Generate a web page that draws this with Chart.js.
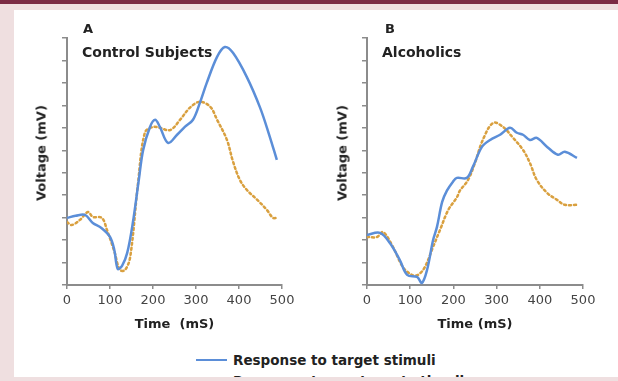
<!DOCTYPE html>
<html><head><meta charset="utf-8">
<script src="https://cdn.jsdelivr.net/npm/chart.js@4.4.1/dist/chart.umd.min.js"></script>
<style>
html,body{margin:0;padding:0;}
body{width:618px;height:381px;position:relative;overflow:hidden;background:#efdfe0;font-family:"DejaVu Sans",sans-serif;}
#band{position:absolute;left:0;top:0;width:618px;height:4px;background:#7b2b44;}
#panel{position:absolute;left:14px;top:10px;width:604px;height:367px;background:#fff;}
#bottom{position:absolute;left:0;top:377px;width:618px;height:4px;background:#efdfe0;z-index:5;}
.cv{position:absolute;top:0;}
.lbl{position:absolute;font-weight:bold;color:#222;white-space:nowrap;line-height:16px;}
.ytitle{position:absolute;font-weight:bold;color:#222;font-size:13px;white-space:nowrap;transform:translate(-50%,-50%) rotate(-90deg);}
.legline{position:absolute;left:196px;width:31px;height:0;}
</style>
</head><body>
<div id="band"></div>
<div id="panel"></div>
<canvas id="cA" class="cv" width="310" height="335" style="left:0px"></canvas>
<canvas id="cB" class="cv" width="318" height="335" style="left:300px"></canvas>
<div class="lbl" style="left:83px;top:21px;font-size:13px;">A</div>
<div class="lbl" style="left:82px;top:44px;font-size:14px;">Control Subjects</div>
<div class="lbl" style="left:385px;top:21px;font-size:13px;">B</div>
<div class="lbl" style="left:382px;top:44px;font-size:14px;">Alcoholics</div>
<div class="ytitle" style="left:41px;top:153px;">Voltage (mV)</div>
<div class="ytitle" style="left:342px;top:153px;">Voltage (mV)</div>
<div class="legline" style="top:359px;border-top:2.5px solid #5b8ed8;"></div>
<div class="lbl" style="left:233px;top:352px;font-size:13.5px;">Response to target stimuli</div>
<div class="legline" style="top:380px;border-top:2.5px dotted #d9a03f;"></div>
<div class="lbl" style="left:233px;top:373px;font-size:13.5px;">Response to nontarget stimuli</div>
<div id="bottom"></div>
<script>
// Panel A — Control Subjects
const timeA_target = [0,20,42,60,80,100,110,118,128,140,153,167,177,193,205,216,235,256,274,293,309,325,349,367,386,418,449,470,488];
const voltA_target = [2.99,3.08,3.12,2.76,2.54,2.14,1.56,0.72,0.85,1.43,2.76,4.68,6.0,7.04,7.36,7.04,6.33,6.69,7.04,7.36,8.11,9.0,10.16,10.6,10.34,9.27,7.9,6.7,5.57];
const timeA_nontarget = [0,11,30,49,60,81,93,110,123,135,147,165,181,200,216,240,263,286,309,333,349,372,386,402,418,442,465,479,488];
const voltA_nontarget = [2.8,2.67,2.9,3.25,3.03,2.99,2.45,1.5,0.67,0.67,1.25,4.5,6.78,7.04,7.0,6.9,7.36,7.9,8.16,7.94,7.36,6.46,5.5,4.68,4.24,3.8,3.34,2.99,2.99];
// Panel B — Alcoholics
const timeB_target = [0,30,53,76,93,116,127,139,153,162,174,185,199,208,231,245,266,285,308,331,347,361,377,393,417,442,458,486];
const voltB_target = [2.23,2.32,1.87,1.11,0.45,0.36,0.09,0.67,2.0,2.59,3.7,4.2,4.6,4.77,4.77,5.26,6.15,6.46,6.69,7.0,6.78,6.69,6.46,6.55,6.15,5.8,5.93,5.66];
const timeB_nontarget = [0,23,37,60,83,104,118,134,153,169,188,208,215,234,250,268,292,315,336,361,377,393,417,440,458,486];
const voltB_nontarget = [2.14,2.14,2.36,1.7,0.8,0.45,0.45,0.8,1.7,2.45,3.34,3.9,4.2,4.68,5.44,6.46,7.22,7.04,6.6,6.02,5.44,4.68,4.1,3.79,3.57,3.57];
const xTicks = [0,100,200,300,400,500];
const xTitleA = 'Time  (mS)';
const xTitleB = 'Time (mS)';

const toPts = (t, v) => t.map((x, i) => ({x: x, y: v[i]}));
const AX = '#8c8c8c';

function makeChart(id, tT, vT, tN, vN, xTitle, padRight) {
  return new Chart(document.getElementById(id), {
    type: 'line',
    data: {
      datasets: [
        {label: 'Response to target stimuli', data: toPts(tT, vT), borderColor: '#5b8ed8', borderWidth: 2.5, pointRadius: 0, tension: 0.35, fill: false},
        {label: 'Response to nontarget stimuli', data: toPts(tN, vN), borderColor: '#d9a03f', borderWidth: 2.5, borderDash: [2, 3], borderCapStyle: 'round', pointRadius: 0, tension: 0.35, fill: false}
      ]
    },
    options: {
      responsive: false,
      animation: false,
      layout: {padding: {top: 38, right: padRight, left: 0, bottom: 0}},
      plugins: {legend: {display: false}, tooltip: {enabled: false}},
      scales: {
        x: {
          type: 'linear', min: 0, max: 500,
          afterBuildTicks: s => { s.ticks = xTicks.map(v => ({value: v})); },
          ticks: {color: '#444', font: {family: 'DejaVu Sans', size: 13}, padding: 4, maxRotation: 0},
          grid: {drawOnChartArea: false, drawTicks: true, tickLength: 4, color: AX, lineWidth: 1.5},
          border: {display: true, color: AX, width: 2},
          title: {display: true, text: xTitle, color: '#222', font: {family: 'DejaVu Sans', size: 13, weight: 'bold'}, padding: {top: 0, bottom: 3}},
          afterFit: s => { s.height = 50; }
        },
        y: {
          min: 0, max: 11,
          ticks: {stepSize: 1, display: false},
          grid: {drawOnChartArea: false, drawTicks: true, tickLength: 5, color: AX, lineWidth: 1.5},
          border: {display: true, color: AX, width: 2},
          afterFit: s => { s.width = 67; }
        }
      }
    }
  });
}
makeChart('cA', timeA_target, voltA_target, timeA_nontarget, voltA_nontarget, xTitleA, 28);
makeChart('cB', timeB_target, voltB_target, timeB_nontarget, voltB_nontarget, xTitleB, 35);
</script>
</body></html>
